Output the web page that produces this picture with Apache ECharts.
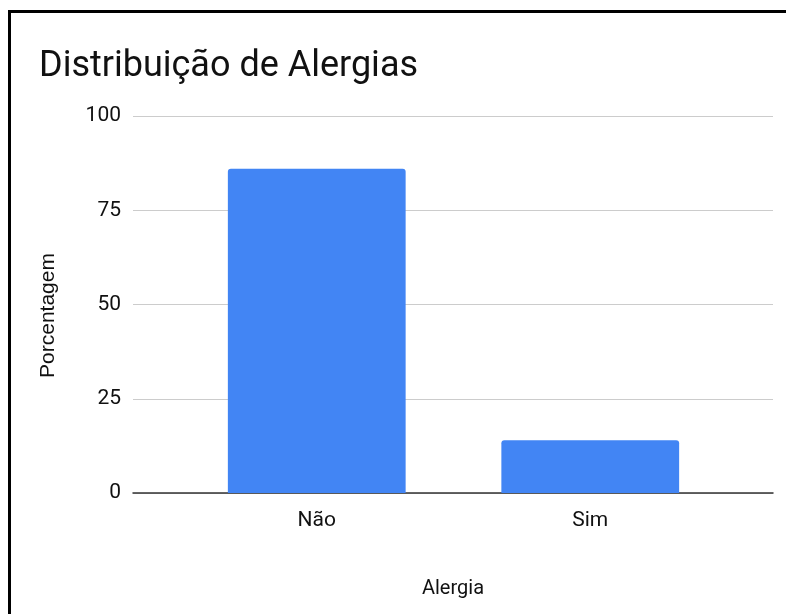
<!DOCTYPE html>
<html>
<head>
<meta charset="utf-8">
<script src="https://cdn.jsdelivr.net/npm/echarts@6/dist/echarts.min.js"></script>
<style>
  html, body { margin: 0; padding: 0; background: #fff; }
  #chart { width: 786px; height: 614px; }
  /* moldura preta (só topo e esquerda ficam visiveis no recorte) */
  #frame {
    position: absolute; left: 8px; top: 10px; width: 778px; height: 604px;
    border-left: 3px solid #000; border-top: 3px solid #000;
    pointer-events: none;
  }
</style>
</head>
<body>
<div id="chart"></div>
<div id="frame"></div>
<script>
// dados
var categorias = ["Não", "Sim"];
var porcentagem = [86, 14];
var yTicks = [0, 25, 50, 75, 100];

var chart = echarts.init(document.getElementById("chart"));
var fonte = "Roboto, 'Liberation Sans', sans-serif";

var option = {
  title: {
    text: "Distribuição de Alergias",
    left: 34,
    top: 44,
    textStyle: { fontSize: 36, fontWeight: "normal", color: "#111", fontFamily: fonte }
  },
  grid: [
    // grade larga: linhas de grade, eixo y e linha do zero
    { left: 133, right: 13, top: 116, bottom: 121 },
    // grade estreita: as barras
    { left: 180, right: 59, top: 116, bottom: 121 }
  ],
  xAxis: [
    {
      gridIndex: 0,
      type: "value",
      min: 0,
      max: 1,
      axisLine: { show: true, onZero: true, lineStyle: { color: "#333", width: 1.5 } },
      axisTick: { show: false },
      axisLabel: { show: false },
      splitLine: { show: false },
      name: "Alergia",
      nameLocation: "middle",
      nameGap: 86,
      nameTextStyle: { fontSize: 20, color: "#111", fontFamily: fonte }
    },
    {
      gridIndex: 1,
      type: "category",
      data: categorias,
      axisLine: { show: false },
      axisTick: { show: false },
      axisLabel: { fontSize: 21, color: "#111", margin: 17, fontFamily: fonte }
    }
  ],
  yAxis: [
    {
      gridIndex: 0,
      type: "value",
      min: yTicks[0],
      max: yTicks[yTicks.length - 1],
      interval: 25,
      axisLine: { show: false },
      axisTick: { show: false },
      axisLabel: { fontSize: 21, color: "#111", margin: 12, fontFamily: fonte },
      splitLine: { lineStyle: { color: "#cccccc", width: 1 } },
      name: "Porcentagem",
      nameLocation: "middle",
      nameGap: 74,
      nameTextStyle: { fontSize: 21, color: "#111", fontFamily: "'Liberation Sans', Arial, sans-serif", padding: [0, 22, 0, 0] }
    },
    {
      gridIndex: 1,
      type: "value",
      min: 0,
      max: 100,
      show: false
    }
  ],
  series: [
    {
      type: "bar",
      xAxisIndex: 1,
      yAxisIndex: 1,
      data: porcentagem,
      barCategoryGap: "35%",
      itemStyle: { color: "#4285F4", borderRadius: [3, 3, 0, 0] }
    }
  ]
};
chart.setOption(option);
</script>
</body>
</html>
